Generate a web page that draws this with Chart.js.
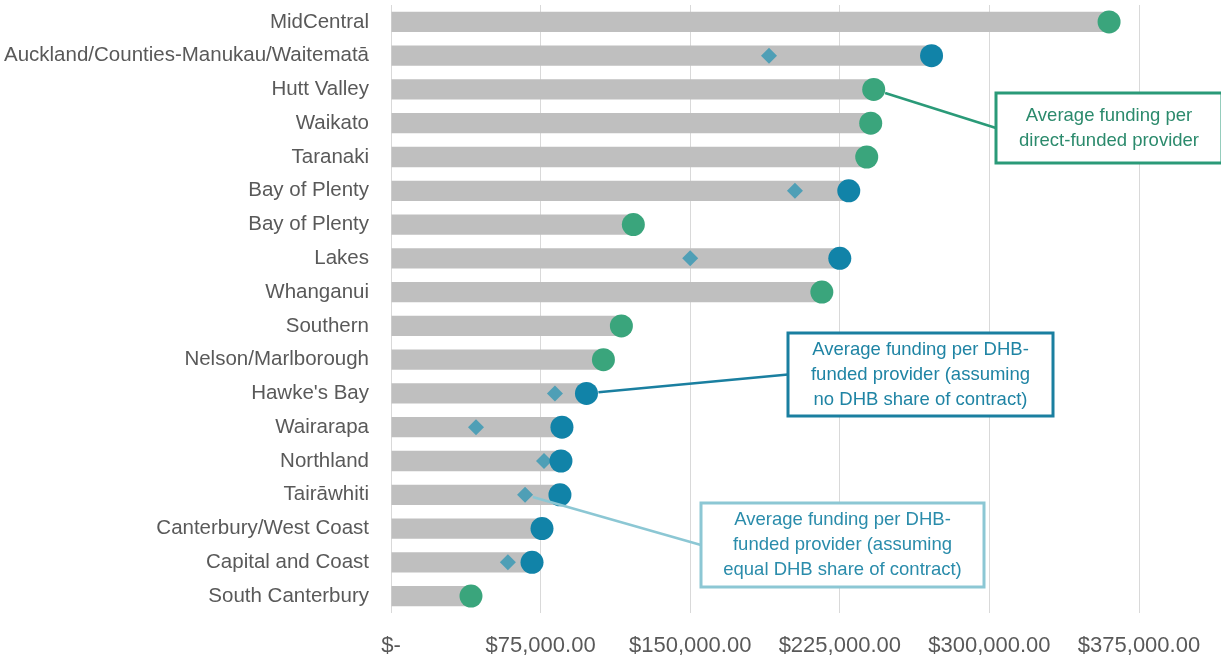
<!DOCTYPE html>
<html>
<head>
<meta charset="utf-8">
<script src="https://cdn.jsdelivr.net/npm/chart.js@4"></script>
<style>
  html, body { margin: 0; padding: 0; background: #fff; }
  #wrap { width: 1221px; height: 659px; position: relative; }
</style>
</head>
<body>
<div id="wrap"><canvas id="chart"></canvas></div>
<script>
const FONT = "'Liberation Sans', Arial, sans-serif";

const regions = [
  'MidCentral', 'Auckland/Counties-Manukau/Waitematā', 'Hutt Valley', 'Waikato', 'Taranaki',
  'Bay of Plenty', 'Bay of Plenty', 'Lakes', 'Whanganui', 'Southern', 'Nelson/Marlborough',
  "Hawke's Bay", 'Wairarapa', 'Northland', 'Tairāwhiti', 'Canterbury/West Coast',
  'Capital and Coast', 'South Canterbury'
];

// bar length = top funding value per region
const barValues = [360000, 271000, 242000, 240500, 238500, 229500, 121500, 225000, 216000,
  115500, 106500, 98000, 85700, 85200, 84700, 75700, 70700, 40100];

// average funding per direct-funded provider
const directFunded = [360000, null, 242000, 240500, 238500, null, 121500, null, 216000,
  115500, 106500, null, null, null, null, null, null, 40100];

// average funding per DHB-funded provider (no DHB share)
const dhbNoShare = [null, 271000, null, null, null, 229500, null, 225000, null,
  null, null, 98000, 85700, 85200, 84700, 75700, 70700, null];

// average funding per DHB-funded provider (equal DHB share)
const dhbEqualShare = [null, 189500, null, null, null, 202500, null, 150000, null,
  null, null, 82200, 42600, 76700, 67200, null, 58600, null];

const tickStep = 75000;
const axisMax = 375000;

// callout boxes: text lines, which series/category they point to
const callouts = [
  { lines: ['Average funding per', 'direct-funded provider'], ds: 1, idx: 2,
    box: [996, 93, 226, 70], color: '#2a9a78', text: '#2b8a6c', r: 12 },
  { lines: ['Average funding per DHB-', 'funded provider (assuming', 'no DHB share of contract)'], ds: 2, idx: 11,
    box: [788, 333, 265, 83], color: '#1a7fa0', text: '#1f84a4', r: 12 },
  { lines: ['Average funding per DHB-', 'funded provider (assuming', 'equal DHB share of contract)'], ds: 3, idx: 14,
    box: [701, 503, 283, 84], color: '#8cc7d4', text: '#2a8cab', r: 8 }
];

const calloutPlugin = {
  id: 'callouts',
  afterDatasetsDraw(chart) {
    const ctx = chart.ctx;
    ctx.save();
    callouts.forEach(c => {
      const pt = chart.getDatasetMeta(c.ds).data[c.idx];
      const [bx, by, bw, bh] = c.box;
      const ex = bx, ey = by + bh / 2;
      const dx = ex - pt.x, dy = ey - pt.y;
      const len = Math.sqrt(dx * dx + dy * dy);
      const sx = pt.x + dx / len * c.r, sy = pt.y + dy / len * c.r;
      ctx.strokeStyle = c.color;
      ctx.lineWidth = 2.5;
      ctx.beginPath();
      ctx.moveTo(sx, sy);
      ctx.lineTo(ex, ey);
      ctx.stroke();
      ctx.fillStyle = '#fff';
      ctx.fillRect(bx, by, bw, bh);
      ctx.lineWidth = 3;
      ctx.strokeRect(bx, by, bw, bh);
      ctx.fillStyle = c.text;
      ctx.font = '18.5px ' + FONT;
      ctx.textAlign = 'center';
      ctx.textBaseline = 'middle';
      const lh = 25;
      const y0 = by + bh / 2 - (c.lines.length - 1) * lh / 2;
      c.lines.forEach((t, i) => ctx.fillText(t, bx + bw / 2, y0 + i * lh));
    });
    ctx.restore();
  }
};

new Chart(document.getElementById('chart'), {
  type: 'bar',
  data: {
    labels: regions,
    datasets: [
      { label: 'Funding', data: barValues, backgroundColor: '#bfbfbf', borderWidth: 0,
        barPercentage: 0.6, categoryPercentage: 1, order: 4 },
      { type: 'line', label: 'Direct-funded', data: directFunded, showLine: false,
        pointStyle: 'circle', pointRadius: 11.5, pointBackgroundColor: '#3aa57c',
        pointBorderWidth: 0, indexAxis: 'y', order: 1, clip: false },
      { type: 'line', label: 'DHB-funded (no share)', data: dhbNoShare, showLine: false,
        pointStyle: 'circle', pointRadius: 11.5, pointBackgroundColor: '#1183a8',
        pointBorderWidth: 0, indexAxis: 'y', order: 2, clip: false },
      { type: 'line', label: 'DHB-funded (equal share)', data: dhbEqualShare, showLine: false,
        pointStyle: 'rectRot', pointRadius: 8, pointBackgroundColor: '#4f9fb6',
        pointBorderWidth: 0, indexAxis: 'y', order: 3, clip: false }
    ]
  },
  options: {
    indexAxis: 'y',
    responsive: true,
    maintainAspectRatio: false,
    animation: false,
    layout: { autoPadding: false, padding: { top: 5, right: 82, left: 0, bottom: 0 } },
    plugins: { legend: { display: false }, tooltip: { enabled: false } },
    scales: {
      x: {
        min: 0, max: axisMax,
        grid: { color: '#d9d9d9', lineWidth: 1, drawTicks: false },
        border: { display: false },
        ticks: {
          stepSize: tickStep,
          color: '#595959',
          padding: 20,
          font: { family: FONT, size: 22 },
          callback: v => v === 0 ? '$-' : '$' + v.toLocaleString('en-US', { minimumFractionDigits: 2 })
        },
        afterFit(s) { s.height = 46; s.paddingLeft = 0; s.paddingRight = 0; }
      },
      y: {
        grid: { display: false },
        border: { display: false },
        ticks: { color: '#595959', padding: 14, font: { family: FONT, size: 20.5 } },
        afterFit(s) { s.width = 391; s.paddingTop = 0; s.paddingBottom = 0; }
      }
    }
  },
  plugins: [calloutPlugin]
});
</script>
</body>
</html>
